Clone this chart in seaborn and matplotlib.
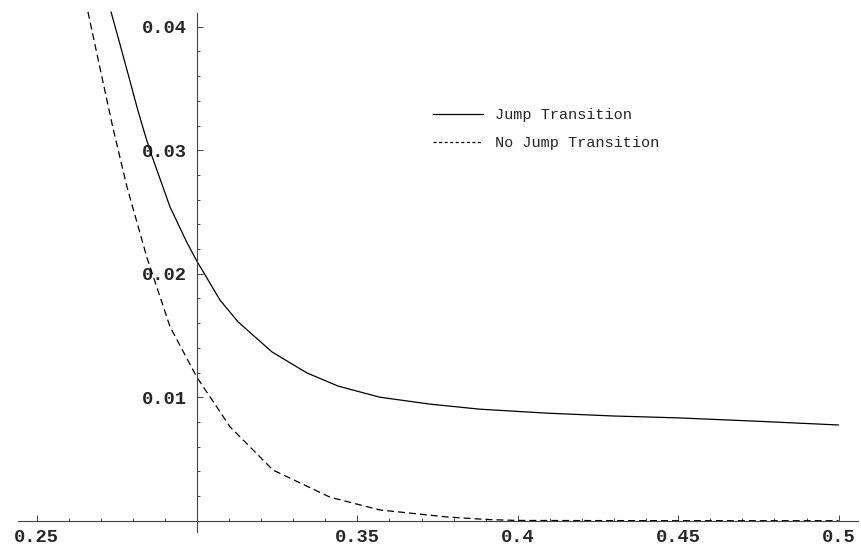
import matplotlib
matplotlib.use("Agg")
import matplotlib.pyplot as plt
import seaborn as sns
from matplotlib.lines import Line2D

# Courbe "Jump Transition"
jump_x = [0.2732, 0.2766, 0.2791, 0.2816, 0.2841, 0.2853, 0.2916, 0.2969, 0.3000,
          0.3072, 0.3128, 0.3234, 0.3343, 0.3440, 0.3570, 0.3726, 0.3882, 0.4090,
          0.4297, 0.4506, 0.4750, 0.5000]
jump_y = [0.0412, 0.0380, 0.0356, 0.0332, 0.0310, 0.0300, 0.0254, 0.0225, 0.0210,
          0.01785, 0.0161, 0.01366, 0.01196, 0.0109, 0.0100, 0.00944, 0.00903, 0.00871,
          0.00848, 0.00832, 0.00805, 0.00775]

# Courbe "No Jump Transition"
nojump_x = [0.2660, 0.2698, 0.2738, 0.2782, 0.2844, 0.2916, 0.3000, 0.3103, 0.3237,
            0.3415, 0.3570, 0.3780, 0.3900, 0.4000, 0.4500, 0.5000]
nojump_y = [0.0412, 0.0366, 0.0318, 0.0270, 0.0213, 0.0157, 0.0116, 0.0076, 0.0041,
            0.0019, 0.00087, 0.0003, 0.0001, 0.00002, 0.0, 0.0]

x_ticks = [0.25, 0.35, 0.4, 0.45, 0.5]
x_labels = ["0.25", "0.35", "0.4", "0.45", "0.5"]
y_ticks = [0.01, 0.02, 0.03, 0.04]
y_labels = ["0.01", "0.02", "0.03", "0.04"]
legende = ["Jump Transition", "No Jump Transition"]

sns.set_style("white")
plt.rcParams["font.family"] = ["Liberation Mono", "DejaVu Sans"]
plt.rcParams["lines.scale_dashes"] = False

fig = plt.figure(figsize=(8.62, 5.53), dpi=100)
ax = fig.add_axes([0, 0, 1, 1])
ax.set_facecolor("white")

sns.lineplot(x=jump_x, y=jump_y, ax=ax, color="black", lw=0.9, sort=False)
sns.lineplot(x=nojump_x, y=nojump_y, ax=ax, color="black", lw=0.9, sort=False,
             linestyle=(0, (5.0, 2.9)))

# axes croisés façon Mathematica
ax.set_xlim(0.23859, 0.50729)
ax.set_ylim(-0.002615, 0.042162)
for cote in ["top", "right"]:
    ax.spines[cote].set_visible(False)
ax.spines["left"].set_position(("data", 0.3))
ax.spines["bottom"].set_position(("data", 0.0))
ax.spines["left"].set_bounds(-0.0009, 0.0411)
ax.spines["bottom"].set_bounds(0.2443, 0.506)
for cote in ["left", "bottom"]:
    ax.spines[cote].set_color("#444444")
    ax.spines[cote].set_linewidth(0.8)

ax.set_xticks(x_ticks)
ax.set_xticklabels(x_labels)
ax.set_yticks(y_ticks)
ax.set_yticklabels(y_labels)
# graduations secondaires seulement dans l'étendue des axes
ax.set_xticks([round(0.25 + 0.01 * i, 2) for i in range(26)], minor=True)
ax.set_yticks([round(0.002 * i, 3) for i in range(1, 21)], minor=True)
ax.tick_params(axis="both", which="both", direction="in", color="#444444", width=0.7,
               bottom=True, left=True, top=False, right=False)
ax.tick_params(axis="both", which="major", length=4)
ax.tick_params(axis="both", which="minor", length=2.5)
ax.tick_params(axis="x", which="major", pad=6.2, labelsize=13.5)
ax.tick_params(axis="y", which="major", pad=7.2, labelsize=13.5)
for lab in ax.get_xticklabels() + ax.get_yticklabels():
    lab.set_fontweight("bold")
ax.grid(False)

poignees = [Line2D([], [], color="black", lw=0.9),
            Line2D([], [], color="black", lw=0.9, linestyle=(0, (2.2, 1.8)))]
ax.legend(poignees, legende, loc="upper left", bbox_to_anchor=(0.5023, 0.8045),
          frameon=False, fontsize=11, handlelength=3.27, handletextpad=0.78,
          labelspacing=0.9, borderpad=0, borderaxespad=0)

plt.savefig("out.png", dpi=100)
plt.close()
